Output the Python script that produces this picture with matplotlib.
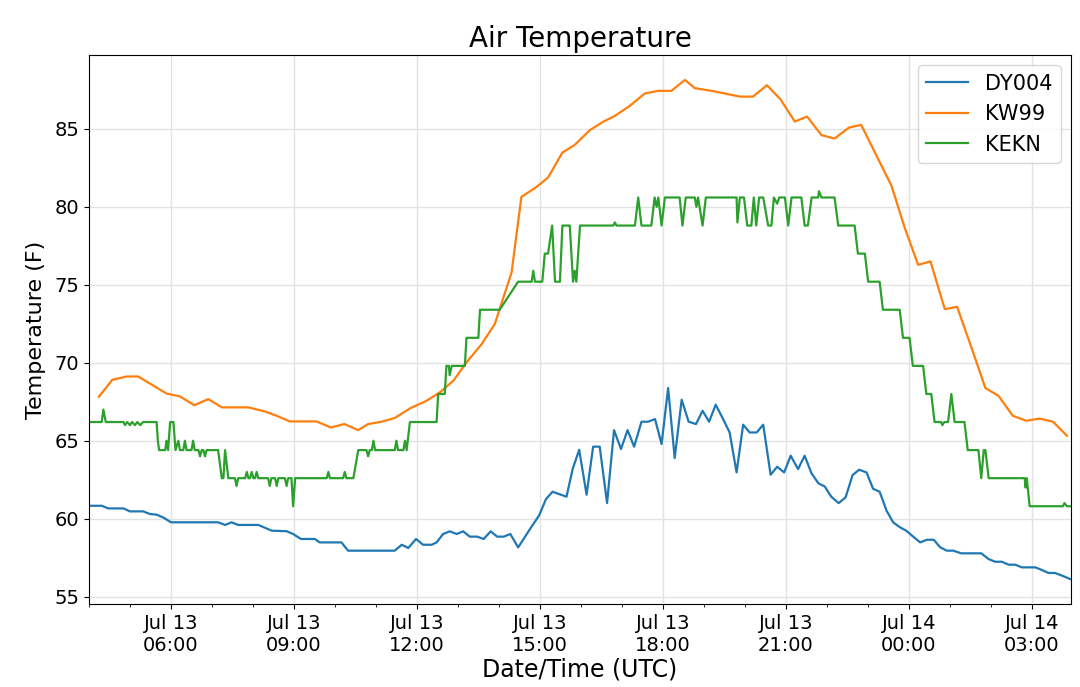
import matplotlib
matplotlib.use("Agg")
import matplotlib.pyplot as plt
import matplotlib.dates as mdates
import pandas as pd

# hours since Jul 13 00:00 UTC
dy004_h = [4.00, 4.31, 4.47, 4.84, 5.00, 5.32, 5.49, 5.65, 5.81, 6.00, 7.15, 7.32, 7.48, 7.64, 8.13,
           8.46, 8.82, 8.98, 9.17, 9.51, 9.63, 10.16, 10.32, 11.46, 11.63, 11.79, 11.98, 12.15, 12.36,
           12.48, 12.64, 12.80, 12.97, 13.13, 13.29, 13.47, 13.63, 13.80, 13.96, 14.12, 14.28, 14.47,
           14.80, 14.98, 15.15, 15.31, 15.48, 15.65, 15.80, 15.96, 16.14, 16.30, 16.46, 16.64, 16.81,
           16.98, 17.14, 17.30, 17.48, 17.64, 17.81, 17.97, 18.13, 18.29, 18.46, 18.63, 18.81, 18.97,
           19.13, 19.29, 19.46, 19.63, 19.80, 19.96, 20.12, 20.29, 20.45, 20.63, 20.79, 20.96, 21.12,
           21.30, 21.46, 21.63, 21.80, 21.95, 22.11, 22.29, 22.46, 22.63, 22.79, 22.97, 23.13, 23.29,
           23.46, 23.62, 23.78, 23.94, 24.10, 24.28, 24.44, 24.61, 24.77, 24.93, 25.09, 25.28, 25.77,
           25.95, 26.11, 26.27, 26.44, 26.60, 26.76, 27.09, 27.25, 27.41, 27.57, 27.74, 27.94]
dy004_t = [60.83, 60.83, 60.66, 60.66, 60.47, 60.47, 60.30, 60.26, 60.08, 59.77, 59.77, 59.60, 59.77,
           59.60, 59.60, 59.23, 59.20, 59.02, 58.70, 58.70, 58.48, 58.48, 57.95, 57.95, 58.33, 58.12,
           58.70, 58.33, 58.33, 58.48, 59.02, 59.19, 59.02, 59.19, 58.85, 58.85, 58.70, 59.19, 58.85,
           58.85, 59.02, 58.16, 59.50, 60.20, 61.26, 61.73, 61.57, 61.41, 63.18, 64.42, 61.54, 64.62,
           64.62, 61.00, 65.68, 64.47, 65.68, 64.62, 66.22, 66.22, 66.39, 64.79, 68.38, 63.89, 67.63,
           66.22, 66.07, 66.92, 66.22, 67.31, 66.45, 65.53, 62.97, 66.03, 65.53, 65.53, 66.03, 62.82,
           63.33, 62.97, 64.04, 63.18, 64.04, 62.90, 62.26, 62.07, 61.41, 61.00, 61.37, 62.80, 63.14,
           62.97, 61.92, 61.73, 60.51, 59.77, 59.46, 59.23, 58.87, 58.48, 58.65, 58.65, 58.16, 57.95,
           57.95, 57.78, 57.78, 57.41, 57.24, 57.24, 57.05, 57.05, 56.88, 56.88, 56.71, 56.52, 56.52,
           56.35, 56.13]

kw99_h = [4.24, 4.57, 4.92, 5.20, 5.89, 6.22, 6.57, 6.91, 7.24, 7.89, 8.29, 8.58, 8.90, 9.55, 9.90,
          10.23, 10.57, 10.81, 11.14, 11.46, 11.85, 12.22, 12.56, 12.89, 13.21, 13.58, 13.90, 14.31,
          14.55, 14.90, 15.20, 15.55, 15.85, 16.22, 16.54, 16.83, 17.19, 17.56, 17.89, 18.21, 18.54,
          18.78, 19.19, 19.88, 20.20, 20.54, 20.87, 21.22, 21.52, 21.87, 22.19, 22.54, 22.84, 23.58,
          23.90, 24.23, 24.53, 24.88, 25.18, 25.53, 25.87, 26.19, 26.54, 26.87, 27.19, 27.52, 27.86]
kw99_t = [67.82, 68.91, 69.12, 69.12, 68.03, 67.84, 67.28, 67.67, 67.14, 67.14, 66.88, 66.60, 66.24,
          66.24, 65.85, 66.07, 65.68, 66.07, 66.22, 66.46, 67.10, 67.54, 68.10, 68.85, 70.02, 71.20,
          72.48, 75.79, 80.64, 81.24, 81.88, 83.48, 83.97, 84.92, 85.45, 85.83, 86.47, 87.27, 87.44,
          87.44, 88.14, 87.61, 87.44, 87.07, 87.07, 87.80, 86.90, 85.47, 85.79, 84.60, 84.38, 85.08,
          85.26, 81.35, 78.67, 76.28, 76.50, 73.44, 73.59, 70.98, 68.38, 67.88, 66.60, 66.28, 66.42,
          66.22, 65.32]

kekn_h = [4.00, 4.31, 4.35, 4.41, 4.84, 4.88, 4.93, 5.00, 5.05, 5.12, 5.18, 5.25, 5.32, 5.65, 5.68,
          5.71, 5.86, 5.89, 5.93, 5.98, 6.06, 6.11, 6.18, 6.22, 6.30, 6.34, 6.38, 6.50, 6.54, 6.58,
          6.67, 6.71, 6.75, 6.79, 6.83, 6.87, 7.15, 7.24, 7.28, 7.32, 7.40, 7.56, 7.60, 7.64, 7.81,
          7.85, 7.89, 7.93, 7.97, 8.01, 8.05, 8.09, 8.13, 8.37, 8.41, 8.45, 8.54, 8.58, 8.62, 8.78,
          8.82, 8.86, 8.94, 8.98, 9.03, 9.80, 9.84, 9.88, 10.20, 10.24, 10.28, 10.45, 10.57, 10.77,
          10.81, 10.85, 10.90, 10.94, 10.98, 11.46, 11.50, 11.54, 11.67, 11.71, 11.75, 11.83, 12.48,
          12.52, 12.68, 12.72, 12.78, 12.80, 12.85, 13.17, 13.21, 13.50, 13.54, 14.02, 14.47, 14.80,
          14.84, 14.88, 15.06, 15.12, 15.20, 15.30, 15.37, 15.49, 15.55, 15.73, 15.81, 15.85, 15.89,
          15.98, 16.79, 16.83, 16.87, 17.32, 17.40, 17.48, 17.72, 17.80, 17.85, 17.89, 17.97, 18.05,
          18.41, 18.48, 18.56, 18.78, 18.82, 18.86, 18.97, 19.05, 19.80, 19.82, 19.88, 19.98, 20.06,
          20.16, 20.22, 20.28, 20.35, 20.45, 20.57, 20.65, 20.71, 20.79, 20.84, 20.98, 21.06, 21.14,
          21.38, 21.46, 21.54, 21.63, 21.79, 21.81, 21.87, 22.19, 22.28, 22.68, 22.76, 22.93, 23.01,
          23.29, 23.37, 23.78, 23.86, 24.02, 24.10, 24.35, 24.43, 24.55, 24.63, 24.79, 24.82, 24.87,
          24.96, 25.04, 25.12, 25.36, 25.44, 25.70, 25.77, 25.83, 25.87, 25.95, 26.83, 26.85, 26.88,
          26.95, 27.76, 27.80, 27.86, 27.96]
kekn_t = [66.2, 66.2, 67.0, 66.2, 66.2, 66.0, 66.2, 66.0, 66.2, 66.0, 66.2, 66.0, 66.2, 66.2, 65.0,
          64.4, 64.4, 65.0, 64.4, 66.2, 66.2, 64.4, 65.0, 64.4, 64.4, 65.0, 64.4, 64.4, 65.0, 64.4,
          64.4, 64.0, 64.4, 64.4, 64.0, 64.4, 64.4, 62.6, 62.6, 64.4, 62.6, 62.6, 62.1, 62.6, 62.6,
          63.0, 62.6, 62.6, 63.0, 62.6, 62.6, 63.0, 62.6, 62.6, 62.1, 62.6, 62.6, 62.1, 62.6, 62.6,
          62.1, 62.6, 62.6, 60.8, 62.6, 62.6, 63.0, 62.6, 62.6, 63.0, 62.6, 62.6, 64.4, 64.4,
          64.0, 64.4, 64.4, 65.0, 64.4, 64.4, 65.0, 64.4, 64.4, 65.0, 64.4, 66.2, 66.2,
          68.0, 68.0, 69.8, 69.8, 69.2, 69.8, 69.8, 71.6, 71.6, 73.4, 73.4, 75.2, 75.2,
          75.9, 75.2, 75.2, 77.0, 77.0, 78.8, 75.2, 75.2, 78.8, 78.8, 75.2, 75.9, 75.2,
          78.8, 78.8, 79.0, 78.8, 78.8, 80.6, 78.8, 78.8, 80.6, 80.0, 80.6, 78.8, 80.6,
          80.6, 78.8, 80.6, 80.6, 80.0, 80.6, 78.8, 80.6, 80.6, 79.0, 80.6, 80.6, 78.8,
          78.8, 80.6, 78.8, 80.6, 80.6, 78.8, 78.8, 80.6, 80.2, 80.6, 80.6, 78.8, 80.6,
          80.6, 78.8, 78.8, 80.6, 80.6, 81.0, 80.6, 80.6, 78.8, 78.8, 77.0, 77.0, 75.2,
          75.2, 73.4, 73.4, 71.6, 71.6, 69.8, 69.8, 68.0, 68.0, 66.2, 66.2, 66.0, 66.2,
          66.2, 68.0, 66.2, 66.2, 64.4, 64.4, 62.6, 64.4, 64.4, 62.6, 62.6, 62.0, 62.6,
          60.8, 60.8, 61.0, 60.8, 60.8]

base = pd.Timestamp("2019-07-13 00:00")
def to_dt(hours):
    return base + pd.to_timedelta(hours, unit="h")

fig = plt.figure(figsize=(10.8, 6.87), dpi=100)
ax = fig.add_axes([0.0824, 0.1208, 0.9093, 0.7992])

ax.plot(to_dt(dy004_h), dy004_t, color="#1f77b4", lw=1.6, label="DY004")
ax.plot(to_dt(kw99_h), kw99_t, color="#ff7f0e", lw=1.6, label="KW99")
ax.plot(to_dt(kekn_h), kekn_t, color="#2ca02c", lw=1.6, label="KEKN")

ax.set_xlim(to_dt(4.0), to_dt(27.96))
ax.xaxis.set_major_locator(mdates.HourLocator(byhour=range(0, 24, 3)))
ax.xaxis.set_minor_locator(mdates.HourLocator())
ax.xaxis.set_major_formatter(mdates.DateFormatter("%b %d\n%H:%M"))
ax.set_yticks([55, 60, 65, 70, 75, 80, 85])

ax.grid(True, which="major", color="#e3e3e3", linewidth=1.0)
ax.tick_params(axis="both", which="major", labelsize=14)
for lbl in ax.get_xticklabels():
    lbl.set_horizontalalignment("center")

ax.set_title("Air Temperature", fontsize=20)
ax.set_xlabel("Date/Time (UTC)", fontsize=17, labelpad=2)
ax.set_ylabel("Temperature (F)", fontsize=16, labelpad=6)
ax.legend(loc="upper right", fontsize=15)

fig.savefig("out.png", dpi=100)
